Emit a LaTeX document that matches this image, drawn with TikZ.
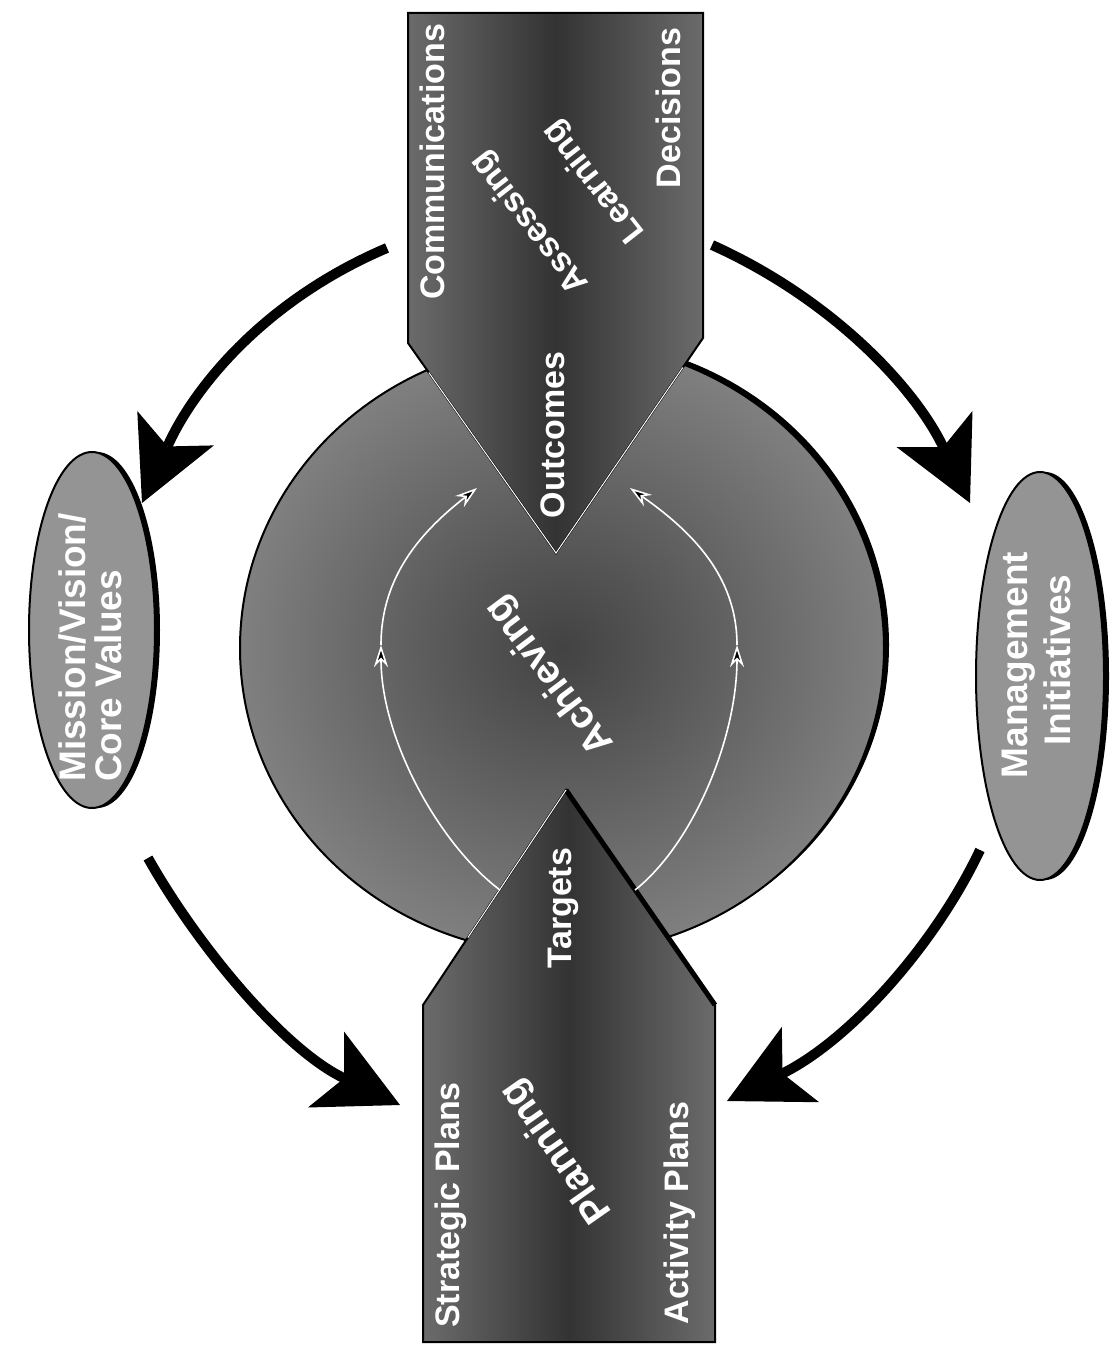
\documentclass[tikz,border=0pt]{standalone}
\usepackage{fontspec}
\setmainfont{Liberation Sans}
\usetikzlibrary{arrows.meta,shapes.geometric}
\definecolor{boxdark}{gray}{0.20}
\definecolor{boxedge}{gray}{0.42}
\definecolor{hubin}{gray}{0.26}
\definecolor{hubout}{gray}{0.50}
\definecolor{ovalfill}{gray}{0.58}
\begin{document}
\begin{tikzpicture}[x=1pt,y=-1pt,
  lbl/.style={text=white,font=\bfseries\fontsize{34}{36}\selectfont,inner sep=0pt},
  biglbl/.style={lbl,font=\bfseries\fontsize{39}{40}\selectfont},
  ovallbl/.style={lbl,font=\bfseries\fontsize{37}{38}\selectfont},
  boxshade/.style={left color=boxedge,right color=boxedge,middle color=boxdark},
  oval/.style={ellipse,draw=black,line width=2pt,fill=ovalfill,inner sep=0pt},
  bigarrow/.style={line width=10pt,-{Stealth[length=82pt,width=84pt,inset=20pt,line width=0pt]}},
  innerarrow/.style={white,line width=1.6pt,-{Stealth[length=22pt,width=14pt,fill=black]}}
]
\useasboundingbox (0,0) rectangle (1110,1354);
\fill[white] (0,0) rectangle (1110,1354);

% ---- central disc ----
\fill[black] (567,645) ellipse [x radius=322pt, y radius=306pt];
\node[ellipse,draw=black,line width=2pt,inner color=hubin,outer color=hubout,
      minimum width=644pt,minimum height=612pt,inner sep=0pt] (hub) at (562,648) {};

% ---- top block ----
\coordinate (tA) at (408,13);
\coordinate (tB) at (703,13);
\coordinate (tC) at (703,338);
\coordinate (tP) at (556,553);
\coordinate (tD) at (408,343);
\fill[black,xshift=5pt] (tA) -- (tB) -- (tC) -- (tP) -- (tD) -- cycle;
\path[boxshade,draw=black,line width=2pt] (tA) -- (tB) -- (tC) -- (tP) -- (tD) -- cycle;

% ---- bottom block ----
\coordinate (bP) at (566,790);
\coordinate (bR) at (715,1005);
\coordinate (bRb) at (715,1342);
\coordinate (bLb) at (423,1342);
\coordinate (bL) at (423,1005);
\fill[black,xshift=5pt] (bP) -- (bR) -- (bRb) -- (bLb) -- (bL) -- cycle;
\path[boxshade,draw=black,line width=2pt] (bP) -- (bR) -- (bRb) -- (bLb) -- (bL) -- cycle;
\draw[black,line width=5pt] (bP) -- (bR);

% light edges of the blocks inside the disc
\begin{scope}
  \clip (562,648) ellipse [x radius=319pt, y radius=303pt];
  \draw[white,line width=1pt] (tD) -- (tP) -- (tC);
  \draw[white,line width=1pt] (bL) -- (bP);
\end{scope}

% ---- side ovals ----
\fill[black] (97,630) ellipse [x radius=63pt, y radius=178pt];
\node[oval,minimum width=126pt,minimum height=356pt] (mission) at (92,630) {};
\fill[black] (1045,676) ellipse [x radius=64pt, y radius=204pt];
\node[oval,minimum width=128pt,minimum height=408pt] (mgmt) at (1040,676) {};

% ---- big arrows ----
\coordinate (a1s) at (387,248);
\coordinate (a1e) at (142,503);
\coordinate (a2s) at (712,245);
\coordinate (a2e) at (970,503);
\coordinate (a3s) at (148,858);
\coordinate (a3e) at (400,1105);
\coordinate (a4s) at (980,850);
\coordinate (a4e) at (727,1101);
\draw[bigarrow] (a1s) .. controls (267,299) and (195,385) .. (a1e);
\draw[bigarrow] (a2s) .. controls (830,298) and (914,386) .. (a2e);
\draw[bigarrow] (a3s) .. controls (197,945) and (283,1049) .. (a3e);
\draw[bigarrow] (a4s) .. controls (935,945) and (850,1040) .. (a4e);

% ---- inner thin arrows ----
\coordinate (l0) at (500,890);
\coordinate (lm) at (381,645);
\coordinate (lt) at (477,488);
\coordinate (r0) at (635,890);
\coordinate (rm) at (737,645);
\coordinate (rt) at (630,488);
\draw[innerarrow] (l0) .. controls (440,845) and (381,740) .. (lm);
\draw[innerarrow] (lm) .. controls (381,575) and (423,530) .. (lt);
\draw[innerarrow] (r0) .. controls (692,845) and (737,740) .. (rm);
\draw[innerarrow] (rm) .. controls (737,575) and (690,530) .. (rt);

% ---- labels ----
\node[lbl,rotate=90] (tcomm) at (432,162) {Communications};
\node[lbl,rotate=90] (tdec) at (668,108) {Decisions};
\node[lbl,rotate=128] (tass) at (530,222) {Assessing};
\node[lbl,rotate=128] (tlearn) at (594,181) {Learning};
\node[lbl,rotate=90] (tout) at (553,435) {Outcomes};
\node[biglbl,rotate=127] (tach) at (550,675) {Achieving};
\node[lbl,rotate=90] (ttar) at (563,908) {Targets};
\node[biglbl,rotate=125] (tplan) at (557,1151) {Planning};
\node[lbl,rotate=90] (tstrat) at (451,1205) {Strategic Plans};
\node[lbl,rotate=90] (tact) at (680,1213) {Activity Plans};
\node[ovallbl,rotate=90,anchor=west] (tmv1) at (72,782) {Mission/Vision/};
\node[ovallbl,rotate=90,anchor=west] (tmv2) at (108,782) {Core Values};
\node[ovallbl,rotate=90] (tmg1) at (1019,665) {Management};
\node[ovallbl,rotate=90] (tmg2) at (1057,660) {Initiatives};
\end{tikzpicture}
\end{document}
